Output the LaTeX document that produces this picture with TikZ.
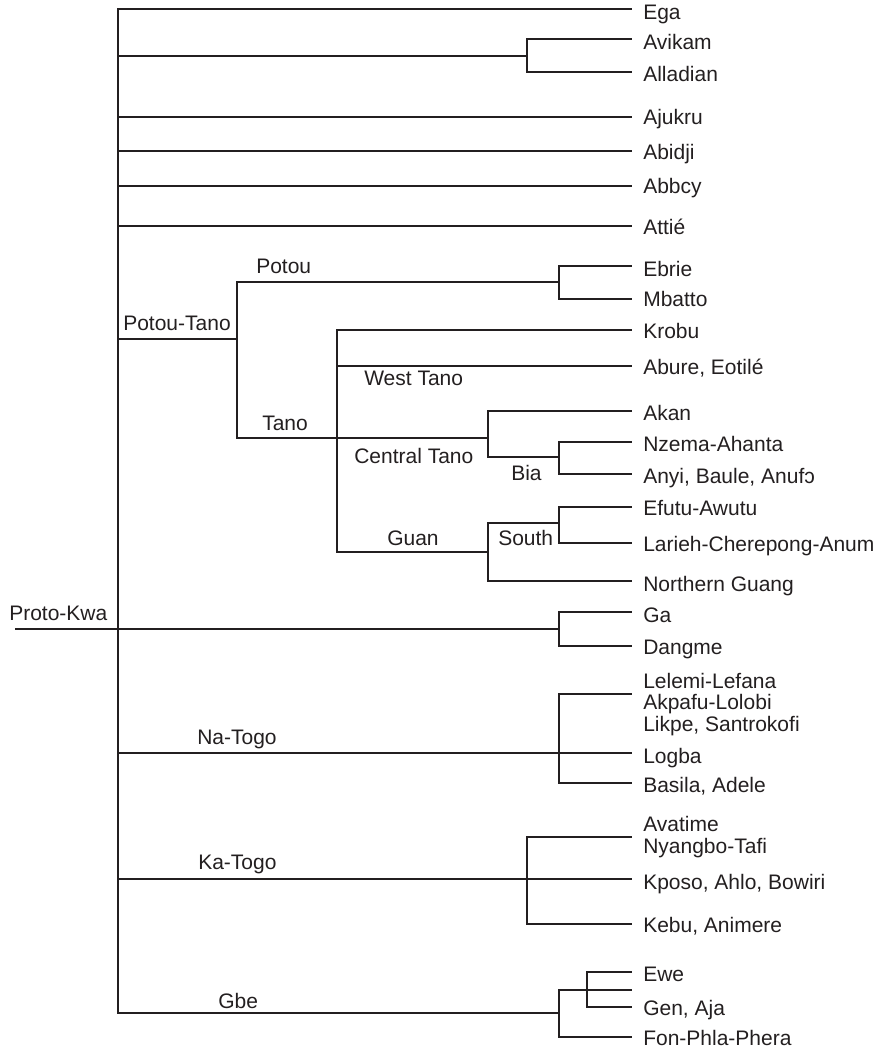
\documentclass[tikz,border=0pt]{standalone}
\usepackage{fontspec}
\setmainfont{Liberation Sans}
\definecolor{ink}{HTML}{231F20}
\begin{document}
\begin{tikzpicture}[x=0.75pt,y=-0.75pt,
  edge/.style={draw=ink, line width=1.3pt, line join=miter},
  leaf/.style={anchor=base west, inner sep=0pt, text=ink, align=left,
    font=\fontsize{15.75pt}{16.1pt}\selectfont},
  clade/.style={leaf}]
\useasboundingbox (0,0) rectangle (881,1049);

% ---------- junction coordinates ----------
\coordinate (root) at (15,629);
\coordinate (T) at (118,629);
\coordinate (jAv) at (527,56);
\coordinate (jPT) at (237,339);
\coordinate (jPo) at (559,282);
\coordinate (jTa) at (337,438);
\coordinate (jCT) at (488,438);
\coordinate (jBia) at (559,457);
\coordinate (jGu) at (488,552);
\coordinate (jSo) at (559,523);
\coordinate (jGa) at (559,629);
\coordinate (jNa) at (559,753);
\coordinate (jKa) at (527,879);
\coordinate (jGbe) at (559,1013);
\coordinate (jGbe2) at (559,990);
\coordinate (jEwe) at (587,990);

% ---------- leaf line ends ----------
\coordinate (eEga) at (632,9);
\coordinate (eAvi) at (632,39);
\coordinate (eAll) at (632,72);
\coordinate (eAju) at (632,117);
\coordinate (eAbi) at (632,151);
\coordinate (eAbb) at (632,186);
\coordinate (eAtt) at (632,226);
\coordinate (eEbr) at (632,266);
\coordinate (eMba) at (632,299);
\coordinate (eKro) at (632,330);
\coordinate (eAbu) at (632,366);
\coordinate (eAka) at (632,411);
\coordinate (eNze) at (632,442);
\coordinate (eAny) at (632,474);
\coordinate (eEfu) at (632,507);
\coordinate (eLar) at (632,543);
\coordinate (eNor) at (632,581);
\coordinate (eGa) at (632,612);
\coordinate (eDan) at (632,646);
\coordinate (eLel) at (632,694);
\coordinate (eLog) at (632,753);
\coordinate (eBas) at (632,783);
\coordinate (eAva) at (632,837);
\coordinate (eKpo) at (632,879);
\coordinate (eKeb) at (632,924);
\coordinate (eEwe) at (632,972);
\coordinate (eMid) at (632,990);
\coordinate (eGen) at (632,1007);
\coordinate (eFon) at (632,1037);

% ---------- leaf labels ----------
\node[leaf] (Ega) at (643,19.5) {Ega};
\node[leaf] (Avikam) at (643,50) {Avikam};
\node[leaf] (Alladian) at (643,82) {Alladian};
\node[leaf] (Ajukru) at (643,124.5) {Ajukru};
\node[leaf] (Abidji) at (643,159) {Abidji};
\node[leaf] (Abbcy) at (643,193) {Abbcy};
\node[leaf] (Attie) at (643,234) {Attié};
\node[leaf] (Ebrie) at (643,276) {Ebrie};
\node[leaf] (Mbatto) at (643,306) {Mbatto};
\node[leaf] (Krobu) at (643,338) {Krobu};
\node[leaf] (Abure) at (643,374) {Abure, Eotilé};
\node[leaf] (Akan) at (643,420) {Akan};
\node[leaf] (Nzema) at (643,451) {Nzema-Ahanta};
\node[leaf] (Anyi) at (643,483) {Anyi, Baule, Anufɔ};
\node[leaf] (Efutu) at (643,515) {Efutu-Awutu};
\node[leaf] (Larieh) at (643,551) {Larieh-Cherepong-Anum};
\node[leaf] (NGuang) at (643,591) {Northern Guang};
\node[leaf] (Ga) at (643,622) {Ga};
\node[leaf] (Dangme) at (643,654) {Dangme};
\node[leaf] (Lelemi) at (643,731) {Lelemi-Lefana\\Akpafu-Lolobi\\Likpe, Santrokofi};
\node[leaf] (Logba) at (643,763) {Logba};
\node[leaf] (Basila) at (643,792) {Basila, Adele};
\node[leaf] (Avatime) at (643,853) {Avatime\\Nyangbo-Tafi};
\node[leaf] (Kposo) at (643,889) {Kposo, Ahlo, Bowiri};
\node[leaf] (Kebu) at (643,932) {Kebu, Animere};
\node[leaf] (Ewe) at (643,981) {Ewe};
\node[leaf] (Gen) at (643,1015) {Gen, Aja};
\node[leaf] (Fon) at (643,1045) {Fon-Phla-Phera};

% ---------- clade labels ----------
\node[clade] (lProto) at (9,620) {Proto-Kwa};
\node[clade] (lPT) at (123,330) {Potou-Tano};
\node[clade] (lPotou) at (256,273) {Potou};
\node[clade] (lTano) at (262,430) {Tano};
\node[clade] (lWT) at (364,385) {West Tano};
\node[clade] (lCT) at (354,463) {Central Tano};
\node[clade] (lBia) at (511,480) {Bia};
\node[clade] (lGuan) at (387,545) {Guan};
\node[clade] (lSouth) at (498,545) {South};
\node[clade] (lNa) at (197,744) {Na-Togo};
\node[clade] (lKa) at (198,869) {Ka-Togo};
\node[clade] (lGbe) at (218,1008) {Gbe};

% ---------- connectors ----------
\draw[edge] (root) -- (jGa);
% trunk children
\draw[edge] (T) |- (eEga);
\draw[edge] (T) |- (jAv);
\draw[edge] (T) |- (eAju);
\draw[edge] (T) |- (eAbi);
\draw[edge] (T) |- (eAbb);
\draw[edge] (T) |- (eAtt);
\draw[edge] (T) |- (jPT);
\draw[edge] (T) |- (eLog);
\draw[edge] (T) |- (eKpo);
\draw[edge] (T) |- (jGbe);
% Avikam / Alladian
\draw[edge] (jAv) |- (eAvi);
\draw[edge] (jAv) |- (eAll);
% Potou-Tano
\draw[edge] (jPT) |- (jPo);
\draw[edge] (jPT) |- (jCT);
\draw[edge] (jPo) |- (eEbr);
\draw[edge] (jPo) |- (eMba);
% Tano
\draw[edge] (jTa) |- (eKro);
\draw[edge] (jTa) |- (eAbu);
\draw[edge] (jTa) |- (jGu);
\draw[edge] (jCT) |- (eAka);
\draw[edge] (jCT) |- (jBia);
\draw[edge] (jBia) |- (eNze);
\draw[edge] (jBia) |- (eAny);
\draw[edge] (jGu) |- (jSo);
\draw[edge] (jGu) |- (eNor);
\draw[edge] (jSo) |- (eEfu);
\draw[edge] (jSo) |- (eLar);
% Ga-Dangme
\draw[edge] (jGa) |- (eGa);
\draw[edge] (jGa) |- (eDan);
% Na-Togo
\draw[edge] (jNa) |- (eLel);
\draw[edge] (jNa) |- (eBas);
% Ka-Togo
\draw[edge] (jKa) |- (eAva);
\draw[edge] (jKa) |- (eKeb);
% Gbe
\draw[edge] (jGbe) |- (eMid);
\draw[edge] (jGbe) |- (eFon);
\draw[edge] (jEwe) |- (eEwe);
\draw[edge] (jEwe) |- (eGen);
\end{tikzpicture}
\end{document}
